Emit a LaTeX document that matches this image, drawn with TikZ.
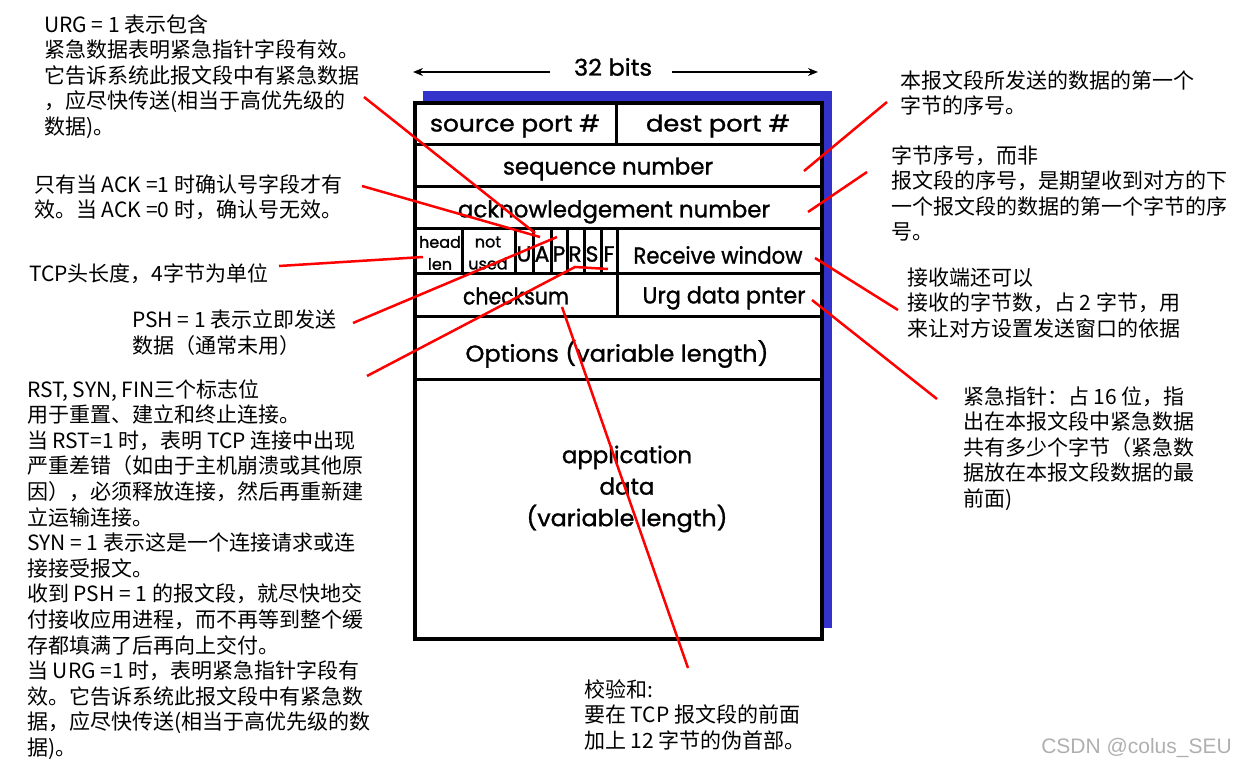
\documentclass[tikz,border=0pt]{standalone}
\usepackage{fontspec}
\usepackage{graphicx}
\usetikzlibrary{arrows.meta}
\newfontfamily\cjk{Noto Sans CJK SC}
\newfontfamily\comic[FakeBold=1.2]{Poppins}
\newfontfamily\wmfont{Liberation Sans}
\newcommand\fitw[2]{\resizebox{#1pt}{\height}{#2}}
\definecolor{hdrblue}{RGB}{51,51,204}
\definecolor{wmgray}{RGB}{175,175,175}
\tikzset{
  note/.style={font=\cjk\fontsize{21}{25.6}\selectfont, anchor=north west, inner sep=0pt, align=left},
  field/.style={font=\comic\fontsize{23}{26}\selectfont, inner sep=0pt},
  smallfield/.style={font=\comic\fontsize{16}{22}\selectfont, inner sep=0pt, align=center},
  flagfield/.style={font=\comic\fontsize{22}{24}\selectfont, inner sep=0pt},
  pointer/.style={red, line width=2.5pt},
  frame/.style={line width=3.5pt},
  divider/.style={line width=3pt},
}
\begin{document}
\begin{tikzpicture}[x=1pt,y=-1pt]
\useasboundingbox (0,0) rectangle (1235,767);
% shadow and frame
\fill[hdrblue] (423,91) rectangle (832,628);
\draw[frame, fill=white] (415,103) rectangle (822,639);
% row separators
\foreach \yy in {145,187,229,274,317,380} \draw[divider] (415,\yy) -- (822,\yy);
\draw[divider] (616,103) -- (616,145);
\foreach \xx in {462,515,533,551,567,584,601,617} \draw[divider] (\xx,229) -- (\xx,274);
\draw[divider] (617,274) -- (617,317);
% 32 bits
\node[field] (bits) at (613,67) {\fitw{78}{32 bits}};
\coordinate (bitsL) at (550,72);
\coordinate (bitsLend) at (413,72);
\coordinate (bitsR) at (672,72);
\coordinate (bitsRend) at (818,72);
\draw[line width=2pt, -{Stealth[length=10pt,width=8pt]}] (bitsL) -- (bitsLend);
\draw[line width=2pt, -{Stealth[length=10pt,width=8pt]}] (bitsR) -- (bitsRend);
% field labels
\node[field] (src) at (515,126) {\fitw{170}{source port \#}};
\node[field] (dst) at (718,126) {\fitw{144}{dest port \#}};
\node[field] (seq) at (608,169) {\fitw{210}{sequence number}};
\node[field] (ack) at (614,212) {\fitw{312}{acknowledgement number}};
\node[smallfield] (hlen) at (440,253) {head\\len};
\node[smallfield] (nused) at (488,253) {not\\used};
\node[flagfield] (fU) at (524,254) {U};
\node[flagfield] (fA) at (542,254) {A};
\node[flagfield] (fP) at (559,254) {P};
\node[flagfield] (fR) at (575,254) {R};
\node[flagfield] (fS) at (592,254) {S};
\node[flagfield] (fF) at (609,254) {F};
\node[field] (rwin) at (718,255) {\fitw{169}{Receive window}};
\node[field] (csum) at (516,296) {\fitw{106}{checksum}};
\node[field] (urgp) at (724,298) {\fitw{163}{Urg data pnter}};
\node[field] (opts) at (617,354) {\fitw{303}{Options (variable length)}};
\node[field, align=center, font=\comic\fontsize{23}{31.5}\selectfont] (appd) at (627,489) {\fitw{130}{application}\\data\\\fitw{201}{(variable length)}};
% notes
\node[note] (nURG) at (44,14) {\strut URG =  1 表示包含\\紧急数据表明紧急指针字段有效。\\它告诉系统此报文段中有紧急数据\\，应尽快传送(相当于高优先级的\\数据)。};
\node[note] (nACK) at (34,174) {\strut 只有当 ACK =1 时确认号字段才有\\效。当 ACK =0 时，确认号无效。};
\node[note] (nHLEN) at (29,263) {\strut TCP头长度，4字节为单位};
\node[note] (nPSH) at (132,309) {\strut PSH =  1 表示立即发送\\数据（通常未用）};
\node[note] (nRST) at (27,379) {\strut RST, SYN, FIN三个标志位\\用于重置、建立和终止连接。\\当 RST=1 时，表明 TCP 连接中出现\\严重差错（如由于主机崩溃或其他原\\因），必须释放连接，然后再重新建\\立运输连接。\\SYN = 1 表示这是一个连接请求或连\\接接受报文。\\收到 PSH = 1 的报文段，就尽快地交\\付接收应用进程，而不再等到整个缓\\存都填满了后再向上交付。\\当 URG =1 时，表明紧急指针字段有\\效。它告诉系统此报文段中有紧急数\\据，应尽快传送(相当于高优先级的数\\据)。};
\node[note] (nSEQ) at (900,70) {\strut 本报文段所发送的数据的第一个\\字节的序号。};
\node[note] (nACKN) at (891,145) {\strut 字节序号，而非\\报文段的序号，是期望收到对方的下\\一个报文段的数据的第一个字节的序\\号。};
\node[note] (nWIN) at (907,267) {\strut 接收端还可以\\接收的字节数，占 2 字节，用\\来让对方设置发送窗口的依据};
\node[note] (nURGP) at (963,386) {\strut 紧急指针：占 16 位，指\\出在本报文段中紧急数据\\共有多少个字节（紧急数\\据放在本报文段数据的最\\前面)};
\node[note] (nCSUM) at (584,679) {\strut 校验和:\\要在 TCP 报文段的前面\\加上 12 字节的伪首部。};
\node[font=\wmfont\fontsize{21}{24}\selectfont, text=wmgray, anchor=east, inner sep=0pt] (wm) at (1232,748) {CSDN @colus\_SEU};
% pointer ends
\coordinate (pURGa) at (364,97);   \coordinate (pURGb) at (535,233);
\coordinate (pACKa) at (362,186);  \coordinate (pACKb) at (540,237);
\coordinate (pHLa) at (279,266);   \coordinate (pHLb) at (423,257);
\coordinate (pPSHa) at (353,323);  \coordinate (pPSHb) at (557,237);
\coordinate (pRSTa) at (367,376);  \coordinate (pRSTm) at (575,267); \coordinate (pRSTb) at (608,269);
\coordinate (pCSa) at (688,668);   \coordinate (pCSb) at (562,307);
\coordinate (pSEQa) at (887,102);  \coordinate (pSEQb) at (804,171);
\coordinate (pACNa) at (867,172);  \coordinate (pACNb) at (808,212);
\coordinate (pWINa) at (898,310);  \coordinate (pWINb) at (815,258);
\coordinate (pUPa) at (937,399);   \coordinate (pUPb) at (812,300);
\draw[pointer] (pURGa) -- (pURGb);
\draw[pointer] (pACKa) -- (pACKb);
\draw[pointer] (pHLa) -- (pHLb);
\draw[pointer] (pPSHa) -- (pPSHb);
\draw[pointer] (pRSTa) -- (pRSTm) -- (pRSTb);
\draw[pointer] (pCSa) -- (pCSb);
\draw[pointer] (pSEQa) -- (pSEQb);
\draw[pointer] (pACNa) -- (pACNb);
\draw[pointer] (pWINa) -- (pWINb);
\draw[pointer] (pUPa) -- (pUPb);
\end{tikzpicture}
\end{document}
